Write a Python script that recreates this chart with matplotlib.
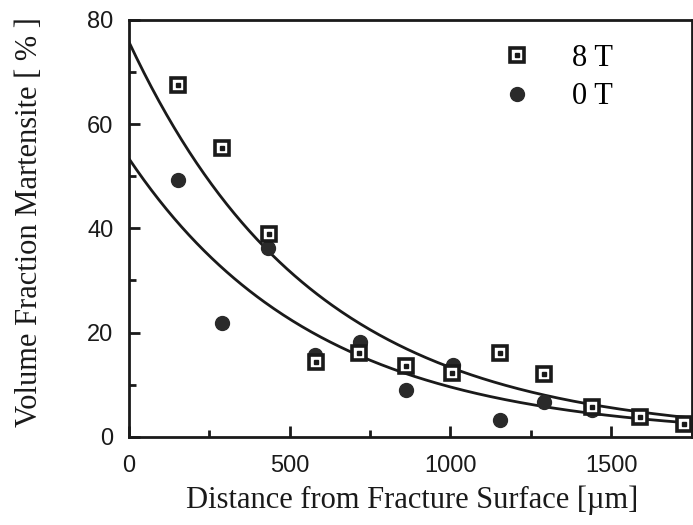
import numpy as np
import matplotlib.pyplot as plt
from matplotlib.ticker import MultipleLocator

# data
x_8T = [152, 288, 437, 583, 716, 862, 1004, 1153, 1292, 1439, 1590, 1727]
y_8T = [67.6, 55.5, 39.0, 14.4, 16.1, 13.6, 12.3, 16.1, 12.1, 5.8, 3.8, 2.5]

x_0T = [152, 291, 434, 580, 719, 862, 1007, 1153, 1292, 1439]
y_0T = [49.3, 21.9, 36.3, 15.7, 18.2, 9.0, 13.8, 3.3, 6.7, 5.2]

# exponential fit parameters (y = A * exp(-k x))
A_8T, k_8T = 75.8, 0.00174
A_0T, k_0T = 53.4, 0.00172

ink = "#1a1a1a"
serif = ["Liberation Serif", "DejaVu Serif"]
sans = ["Liberation Sans", "DejaVu Sans"]

fig = plt.figure(figsize=(6.93, 5.25), dpi=100)
ax = fig.add_axes([0.186, 0.168, 0.812, 0.794])

xs = np.linspace(0, 1750, 300)
ax.plot(xs, A_8T * np.exp(-k_8T * xs), color=ink, lw=2.0)
ax.plot(xs, A_0T * np.exp(-k_0T * xs), color=ink, lw=2.0)

# 0T: filled dots
dots, = ax.plot(x_0T, y_0T, "o", ms=10, color="#2a2a2a", mec="#2a2a2a",
                linestyle="none", clip_on=False)
# 8T: open squares with a dot inside
sq, = ax.plot(x_8T, y_8T, "s", ms=10, mfc="white", mec=ink, mew=2.6,
              linestyle="none", clip_on=False)
sqd, = ax.plot(x_8T, y_8T, "s", ms=2.5, color=ink, linestyle="none",
               clip_on=False)

leg = ax.legend([(sq, sqd), dots], ["8 T", "0 T"], loc="upper right",
                bbox_to_anchor=(0.91, 1.008), frameon=False,
                prop={"family": serif, "size": 22}, handlelength=1.0,
                handletextpad=1.3, labelspacing=0.3)

ax.set_xlim(0, 1750)
ax.set_ylim(0, 80)
ax.xaxis.set_major_locator(MultipleLocator(500))
ax.xaxis.set_minor_locator(MultipleLocator(250))
ax.yaxis.set_major_locator(MultipleLocator(20))
ax.yaxis.set_minor_locator(MultipleLocator(10))
ax.tick_params(which="both", direction="in", color=ink, width=2)
ax.tick_params(which="major", length=8)
ax.tick_params(which="minor", length=5)
ax.tick_params(axis="x", which="major", pad=13)
ax.tick_params(axis="y", which="major", pad=11)
for lab in ax.get_xticklabels() + ax.get_yticklabels():
    lab.set_family(sans)
    lab.set_fontsize(17)
    lab.set_color(ink)
for s in ax.spines.values():
    s.set_linewidth(2)
    s.set_color(ink)

ax.set_xlabel("Distance from Fracture Surface [\u00b5m]", family=serif,
              fontsize=22, color=ink)
ax.set_ylabel("Volume Fraction Martensite [ % ]", family=serif,
              fontsize=22, color=ink)
ax.xaxis.set_label_coords(0.503, -0.118)
ax.yaxis.set_label_coords(-0.15, 0.516)

fig.savefig("out.png", dpi=100)
